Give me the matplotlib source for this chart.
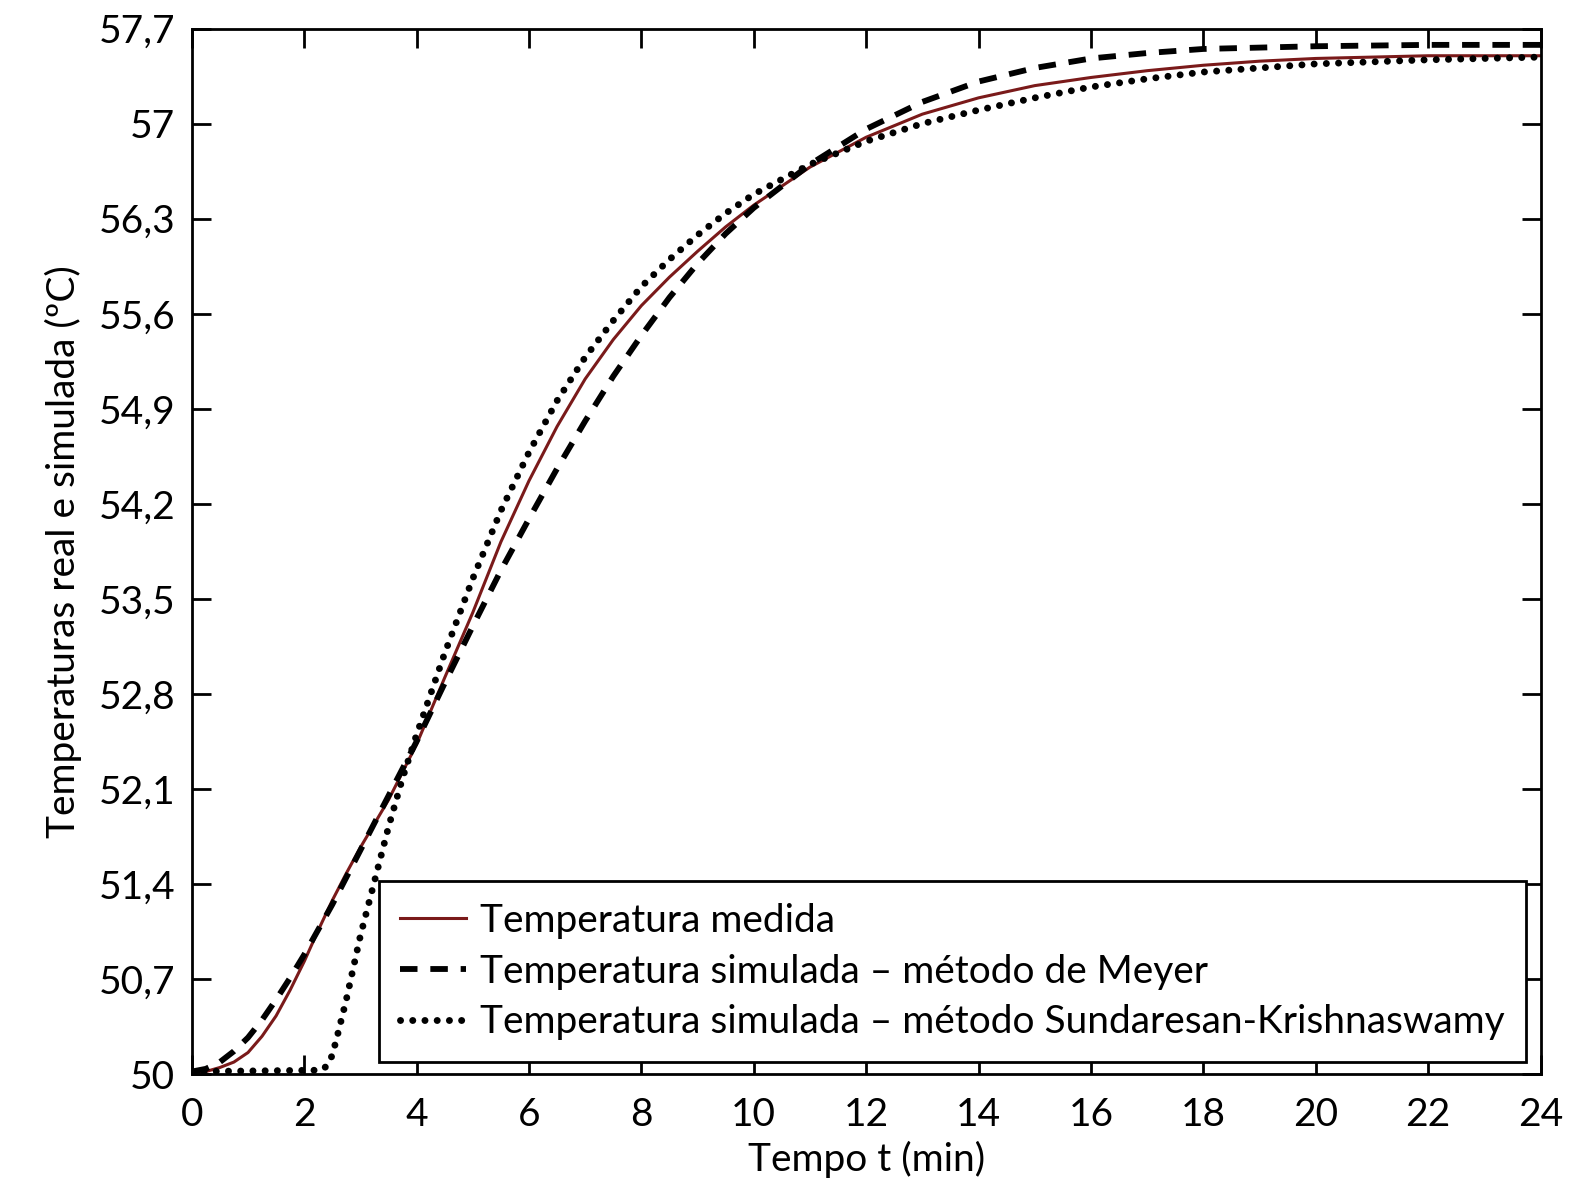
import matplotlib.pyplot as plt
import numpy as np

plt.rcParams['font.family'] = ['Lato', 'DejaVu Sans']

# Temperatura medida
t_med = [0, 0.25, 0.5, 0.75, 1, 1.25, 1.5, 1.75, 2, 2.25, 2.5, 2.75, 3, 3.5, 4, 4.5,
         5, 5.5, 6, 6.5, 7, 7.5, 8, 8.5, 9, 9.5, 10, 11, 12, 13, 14, 15, 16, 17, 18,
         19, 20, 22, 24]
T_med = [50.02, 50.02, 50.05, 50.09, 50.16, 50.28, 50.43, 50.62, 50.83, 51.06, 51.28,
         51.48, 51.67, 52.02, 52.43, 52.92, 53.40, 53.92, 54.37, 54.77, 55.12, 55.41,
         55.66, 55.87, 56.06, 56.24, 56.40, 56.68, 56.90, 57.07, 57.19, 57.28, 57.34,
         57.39, 57.43, 57.46, 57.48, 57.50, 57.50]

# Meyer
t_mey = [0, 0.25, 0.5, 0.75, 1, 1.25, 1.5, 1.75, 2, 2.5, 3, 3.5, 4, 4.5, 5, 5.5, 6,
         6.5, 7, 7.5, 8, 8.5, 9, 9.5, 10, 11, 12, 13, 14, 15, 16, 17, 18, 20, 22, 24]
T_mey = [50.02, 50.04, 50.09, 50.17, 50.27, 50.40, 50.55, 50.71, 50.88, 51.25, 51.65,
         52.05, 52.45, 52.88, 53.30, 53.71, 54.09, 54.46, 54.81, 55.14, 55.44, 55.72,
         55.97, 56.19, 56.38, 56.70, 56.96, 57.16, 57.31, 57.41, 57.48, 57.52, 57.55,
         57.57, 57.58, 57.58]

# Sundaresan-Krishnaswamy
t_sk = [0, 2.3, 2.4, 2.5, 2.6, 2.75, 3, 3.25, 3.5, 3.75, 4, 4.5, 5, 5.5, 6, 6.5, 7,
        7.5, 8, 8.5, 9, 9.5, 10, 11, 12, 13, 14, 15, 16, 17, 18, 20, 22, 24]
T_sk = [50.02, 50.03, 50.06, 50.14, 50.30, 50.55, 51.02, 51.42, 51.82, 52.18, 52.50,
        53.10, 53.65, 54.15, 54.58, 54.96, 55.28, 55.55, 55.80, 56.00, 56.18, 56.34,
        56.48, 56.70, 56.87, 57.00, 57.10, 57.19, 57.27, 57.33, 57.38, 57.44, 57.47,
        57.49]

xticks = np.arange(0, 25, 2)
yticks = [50, 50.7, 51.4, 52.1, 52.8, 53.5, 54.2, 54.9, 55.6, 56.3, 57, 57.7]
ylabels = ['50', '50,7', '51,4', '52,1', '52,8', '53,5', '54,2', '54,9', '55,6',
           '56,3', '57', '57,7']

fig = plt.figure(figsize=(15.72, 11.91), dpi=100)
ax = fig.add_axes([0.122, 0.098, 0.858, 0.878])

ax.plot(t_med, T_med, color='#7a1a1a', lw=2.2, label='Temperatura medida')
ax.plot(t_mey, T_mey, color='black', lw=4.2, linestyle=(0, (3.0, 2.2)),
        label='Temperatura simulada – método de Meyer')
ax.plot(t_sk, T_sk, color='black', lw=5, linestyle=(0, (0.01, 1.75)),
        dash_capstyle='round', label='Temperatura simulada – método Sundaresan-Krishnaswamy')

ax.set_xlim(0, 24)
ax.set_ylim(50, 57.7)
ax.set_xticks(xticks)
ax.set_yticks(yticks)
ax.set_yticklabels(ylabels)
ax.tick_params(direction='in', length=14, width=2, labelsize=28, top=True, right=True)
ax.tick_params(axis='x', pad=16)
ax.tick_params(axis='y', pad=12)
for s in ax.spines.values():
    s.set_linewidth(2)

ax.set_xlabel('Tempo t (min)', fontsize=28, labelpad=6)
ax.set_ylabel('Temperaturas real e simulada (ºC)', fontsize=28, labelpad=12)

leg = ax.legend(loc='lower right', bbox_to_anchor=(0.989, 0.012), fontsize=28,
                handlelength=1.7, handletextpad=0.35, labelspacing=0.38,
                fancybox=False, framealpha=1, borderpad=0.55, borderaxespad=0)
leg.get_frame().set_edgecolor('black')
leg.get_frame().set_linewidth(2)

fig.savefig('out.png', dpi=100)
